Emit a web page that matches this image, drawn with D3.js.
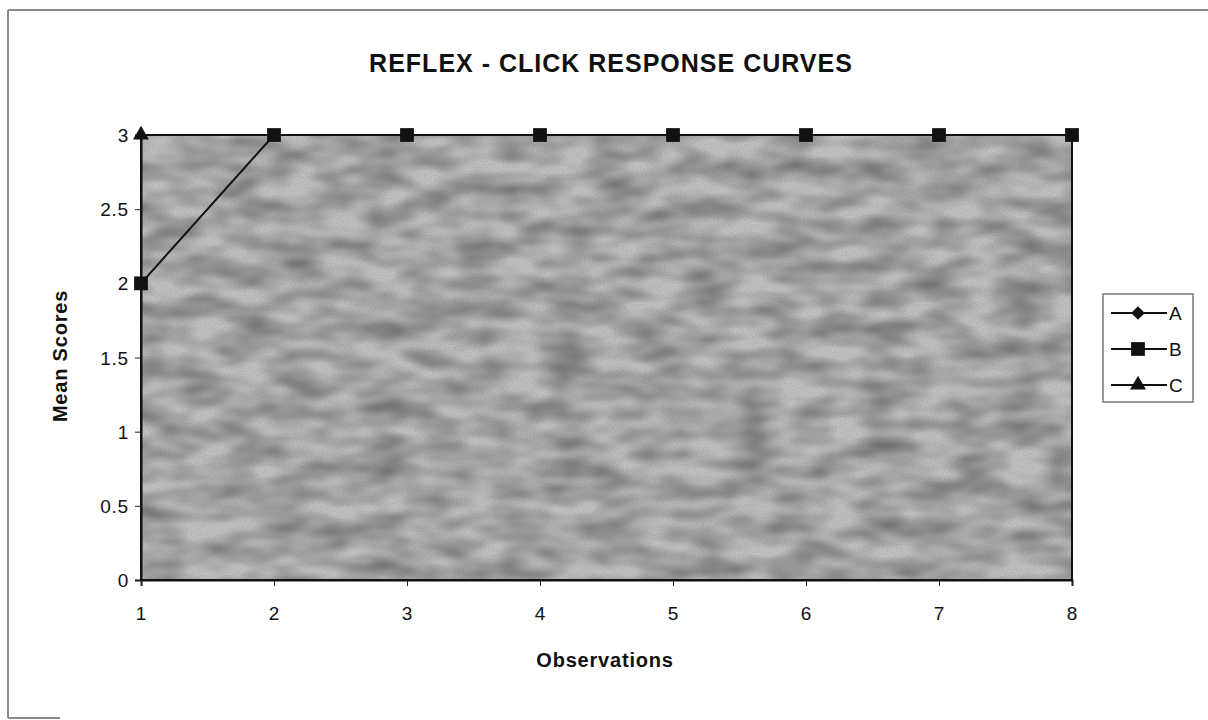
<!DOCTYPE html>
<html>
<head>
<meta charset="utf-8">
<script src="https://cdn.jsdelivr.net/npm/d3@7"></script>
<style>
  html, body { margin: 0; padding: 0; background: #fff; }
  svg { display: block; font-family: "Liberation Sans", Arial, sans-serif; }
</style>
</head>
<body>
<svg id="chart" width="1208" height="720"></svg>
<script>
// Observation numbers on the category axis
const observations = [1, 2, 3, 4, 5, 6, 7, 8];
// Mean scores per series (null = no reading)
const seriesA = [null, null, null, null, null, null, null, null];
const seriesB = [2, 3, 3, 3, 3, 3, 3, 3];
const seriesC = [3, null, null, null, null, null, null, null];
const seriesNames = ["A", "B", "C"];
const yTicks = [0, 0.5, 1, 1.5, 2, 2.5, 3];
const yTickLabels = ["0", "0.5", "1", "1.5", "2", "2.5", "3"];

const svg = d3.select("#chart");
const plot = { left: 141, right: 1072, top: 135, bottom: 580 };
const FONT = "Liberation Sans, Arial, sans-serif";

const x = d3.scaleLinear().domain([1, 8]).range([plot.left, plot.right]);
const y = d3.scaleLinear().domain([0, 3]).range([plot.bottom, plot.top]);

// Mottled grey texture for the plot area
const defs = svg.append("defs");
const f = defs.append("filter").attr("id", "mottle")
  .attr("color-interpolation-filters", "sRGB")
  .attr("x", 0).attr("y", 0).attr("width", "100%").attr("height", "100%");
f.append("feTurbulence").attr("type", "fractalNoise")
  .attr("baseFrequency", "0.022 0.05").attr("numOctaves", 2).attr("seed", 11).attr("result", "blot");
f.append("feColorMatrix").attr("in", "blot").attr("type", "matrix")
  .attr("values", "1.5 0 0 0 -0.08  1.5 0 0 0 -0.08  1.5 0 0 0 -0.08  0 0 0 0 1").attr("result", "blotGray");
f.append("feTurbulence").attr("type", "fractalNoise")
  .attr("baseFrequency", "0.9").attr("numOctaves", 1).attr("seed", 3).attr("result", "grain");
f.append("feColorMatrix").attr("in", "grain").attr("type", "matrix")
  .attr("values", "0.4 0 0 0 0.55  0.4 0 0 0 0.55  0.4 0 0 0 0.55  0 0 0 0 1").attr("result", "grainGray");
f.append("feBlend").attr("in", "blotGray").attr("in2", "grainGray").attr("mode", "multiply").attr("result", "mix");
f.append("feColorMatrix").attr("in", "mix").attr("type", "matrix")
  .attr("values", "0.42 0 0 0 0.42  0 0.42 0 0 0.42  0 0 0.42 0 0.42  0 0 0 0 1");

// Page frame
const frame = svg.append("g").attr("stroke", "#8a8a8a").attr("stroke-width", 2).attr("fill", "none");
frame.append("line").attr("x1", 8).attr("y1", 10).attr("x2", 1208).attr("y2", 10);
frame.append("line").attr("x1", 8).attr("y1", 10).attr("x2", 8).attr("y2", 718);
frame.append("line").attr("x1", 8).attr("y1", 718).attr("x2", 60).attr("y2", 718);

// Plot area
svg.append("rect")
  .attr("x", plot.left).attr("y", plot.top)
  .attr("width", plot.right - plot.left).attr("height", plot.bottom - plot.top)
  .attr("fill", "#a8a8a8").attr("filter", "url(#mottle)");
svg.append("rect")
  .attr("x", plot.left).attr("y", plot.top)
  .attr("width", plot.right - plot.left).attr("height", plot.bottom - plot.top)
  .attr("fill", "none").attr("stroke", "#111").attr("stroke-width", 2);

// Axes
const yAxis = d3.axisLeft(y).tickValues(yTicks)
  .tickFormat((d, i) => yTickLabels[i]).tickSize(6).tickPadding(6);
const gy = svg.append("g").attr("transform", `translate(${plot.left},0)`).call(yAxis);
const xAxis = d3.axisBottom(x).tickValues(observations).tickFormat(d3.format("d")).tickSize(6).tickPadding(21);
const gx = svg.append("g").attr("transform", `translate(0,${plot.bottom})`).call(xAxis);
[gy, gx].forEach(g => {
  g.select(".domain").attr("stroke", "#111").attr("stroke-width", 2);
  g.selectAll(".tick line").attr("stroke", "#222").attr("stroke-width", 1);
  g.selectAll(".tick text").attr("fill", "#111").attr("font-size", 19)
    .attr("letter-spacing", 0.8).attr("font-family", FONT);
});
gy.selectAll(".tick text").attr("dy", "0.35em");

// Titles
svg.append("text").attr("x", 611).attr("y", 72).attr("text-anchor", "middle")
  .attr("font-size", 25).attr("letter-spacing", 1).attr("font-weight", "bold").attr("fill", "#111")
  .text("REFLEX - CLICK RESPONSE CURVES");
svg.append("text").attr("x", 605).attr("y", 667).attr("text-anchor", "middle")
  .attr("font-size", 20).attr("letter-spacing", 0.8).attr("font-weight", "bold").attr("fill", "#111")
  .text("Observations");
svg.append("text").attr("transform", "translate(67,356) rotate(-90)").attr("text-anchor", "middle")
  .attr("font-size", 20).attr("letter-spacing", 0.8).attr("font-weight", "bold").attr("fill", "#111")
  .text("Mean Scores");

// Marker shapes
const markers = {
  A: d3.symbol().type(d3.symbolDiamond2).size(120),
  B: d3.symbol().type(d3.symbolSquare).size(190),
  C: d3.symbol().type(d3.symbolTriangle).size(110)
};

const series = [
  { name: "A", values: seriesA },
  { name: "B", values: seriesB },
  { name: "C", values: seriesC }
];

const line = d3.line()
  .defined(d => d != null)
  .x((d, i) => x(observations[i])).y(d => y(d));

series.forEach(s => {
  const g = svg.append("g");
  g.append("path").attr("d", line(s.values))
    .attr("fill", "none").attr("stroke", "#111").attr("stroke-width", 2);
  g.selectAll("path.m").data(s.values.map((v, i) => ({ v, i })).filter(d => d.v != null))
    .join("path").attr("class", "m")
    .attr("transform", d => `translate(${x(observations[d.i])},${y(d.v)})`)
    .attr("d", markers[s.name]()).attr("fill", "#111");
});

// Legend
const leg = svg.append("g").attr("transform", "translate(1103,294)");
leg.append("rect").attr("width", 90).attr("height", 108)
  .attr("fill", "#fff").attr("stroke", "#777").attr("stroke-width", 1.5);
seriesNames.forEach((n, i) => {
  const cy = 19 + i * 36;
  leg.append("line").attr("x1", 8).attr("x2", 64).attr("y1", cy).attr("y2", cy)
    .attr("stroke", "#111").attr("stroke-width", 2);
  leg.append("path").attr("transform", `translate(35,${cy})`).attr("d", markers[n]()).attr("fill", "#111");
  leg.append("text").attr("x", 66).attr("y", cy).attr("dy", "0.36em")
    .attr("font-size", 19).attr("fill", "#111").attr("font-family", FONT).text(n);
});
</script>
</body>
</html>
